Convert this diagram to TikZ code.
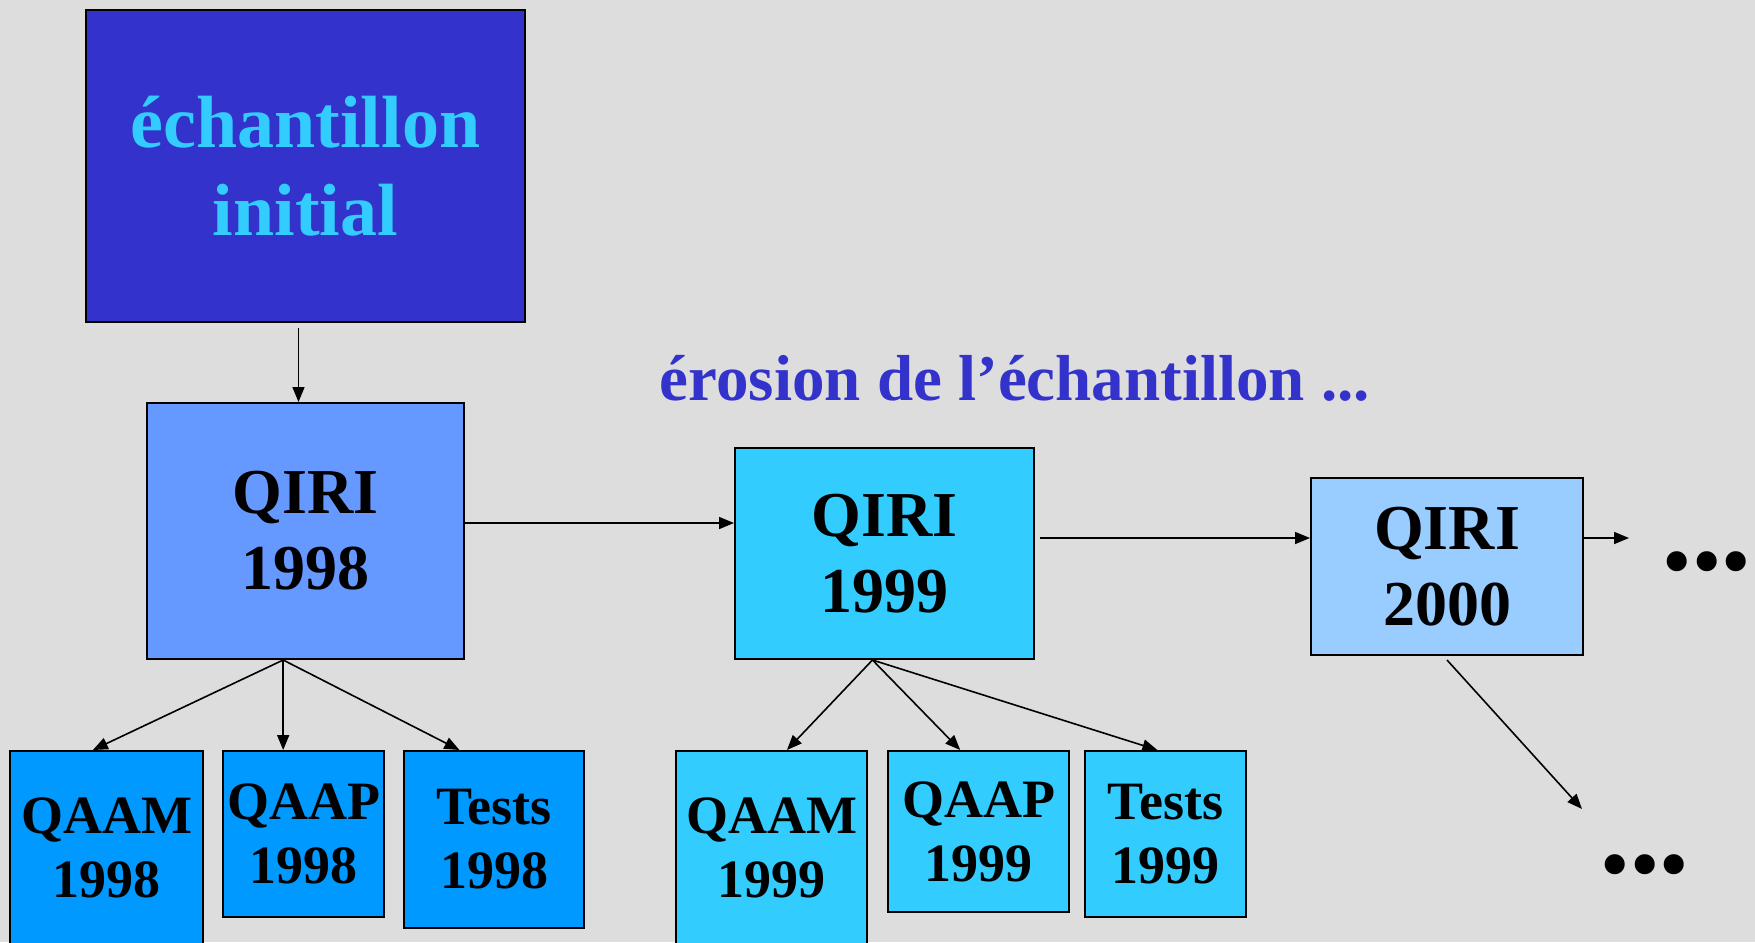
\documentclass[tikz,border=0pt]{standalone}
\usepackage{fontspec}
\setmainfont{Liberation Serif}
\usetikzlibrary{positioning,calc,arrows.meta}
\definecolor{fond}{HTML}{DDDDDD}
\definecolor{indigo}{HTML}{3333CC}
\definecolor{ciel}{HTML}{33CCFF}
\definecolor{bleu98}{HTML}{6699FF}
\definecolor{bleu00}{HTML}{99CCFF}
\definecolor{azur}{HTML}{0099FF}

\begin{document}
\begin{tikzpicture}[x=0.5pt,y=-0.5pt,
	box/.style={draw=black,line width=1pt,inner sep=0pt,align=center},
	qiri/.style={box,font=\fontsize{32}{38}\selectfont\bfseries},
	sous/.style={box,font=\fontsize{27}{32}\selectfont\bfseries},
	arr/.style={-{Triangle[length=7.5pt,width=6pt]},line width=0.8pt}]
	\fill[fond] (0,0) rectangle (1755,942);
	\useasboundingbox (0,0) rectangle (1755,942);

	\node[box,fill=indigo,text=ciel,minimum width=219.5pt,minimum height=156pt,
		font=\fontsize{37}{44}\selectfont\bfseries] (init) at (305.5,166) {échantillon\\initial};

	\node[qiri,fill=bleu98,minimum width=158.5pt,minimum height=128pt] (q98) at (305.5,531) {QIRI\\1998};
	\node[qiri,fill=ciel,minimum width=149.5pt,minimum height=105.5pt] (q99) at (884.5,553.5) {QIRI\\1999};
	\node[qiri,fill=bleu00,minimum width=136pt,minimum height=88.5pt] (q00) at (1447,566.5) {QIRI\\2000};

	\node[sous,fill=azur,minimum width=96.5pt,minimum height=97pt] (qaam98) at (106.5,848) {QAAM\\1998};
	\node[sous,fill=azur,minimum width=80.5pt,minimum height=83pt] (qaap98) at (303.5,834) {QAAP\\1998};
	\node[sous,fill=azur,minimum width=90pt,minimum height=88.5pt] (tests98) at (494,839.5) {Tests\\1998};
	\node[sous,fill=ciel,minimum width=95.5pt,minimum height=97pt] (qaam99) at (771.5,848) {QAAM\\1999};
	\node[sous,fill=ciel,minimum width=90.5pt,minimum height=80.5pt] (qaap99) at (978.5,831.5) {QAAP\\1999};
	\node[sous,fill=ciel,minimum width=80.5pt,minimum height=83pt] (tests99) at (1165.5,834) {Tests\\1999};

	\node[anchor=base,text=indigo,font=\fontsize{32.5}{40}\selectfont\bfseries] (erosion) at (1015,400) {érosion de l’échantillon ...};

	\node[inner sep=0pt,font=\fontsize{42}{50}\selectfont] (suite1) at (1707,571) {•••};
	\node[inner sep=0pt,font=\fontsize{42}{50}\selectfont] (suite2) at (1645,874) {•••};
	\coordinate (fin1) at (1629,538);
	\coordinate (fin2) at (1582,809);

	\draw[arr] ([xshift=-3.5pt,yshift=-2.5pt]init.south) -- ([xshift=-3.5pt]q98.north);
	\draw[arr] ([yshift=4pt]q98.east) -- ([yshift=4pt]q98.east -| q99.west);
	\draw[arr] ([xshift=2.5pt,yshift=7.75pt]q99.east) -- ([yshift=7.75pt]q99.east -| q00.west);
	\draw[arr] (q00.east |- fin1) -- (fin1);
	\draw[arr] ([yshift=-2pt]q00.south) -- (fin2);

	\coordinate (o98) at ($(q98.south west)!0.43!(q98.south east)$);
	\draw[arr] (o98) -- ($(qaam98.north west)!0.43!(qaam98.north east)$);
	\draw[arr] (o98) -- (o98 |- qaap98.north);
	\draw[arr] (o98) -- ($(tests98.north west)!0.31!(tests98.north east)$);

	\coordinate (o99) at ($(q99.south west)!0.46!(q99.south east)$);
	\draw[arr] (o99) -- ($(qaam99.north west)!0.58!(qaam99.north east)$);
	\draw[arr] (o99) -- ($(qaap99.north west)!0.40!(qaap99.north east)$);
	\draw[arr] (o99) -- ($(tests99.north west)!0.45!(tests99.north east)$);
\end{tikzpicture}
\end{document}
